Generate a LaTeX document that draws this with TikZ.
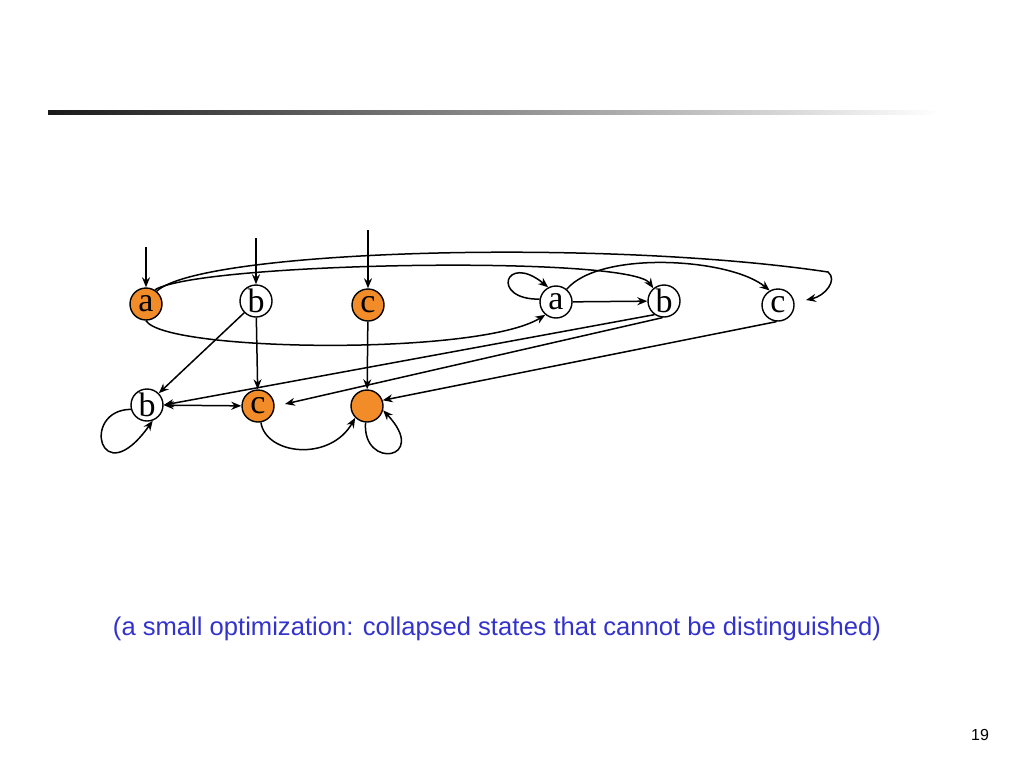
\documentclass[tikz,border=0pt]{standalone}
\usepackage{fontspec}
\setmainfont{Liberation Serif}
\newfontfamily\capfont{Liberation Sans}
\newfontfamily\numfont{Liberation Sans}
\usetikzlibrary{arrows.meta}
\definecolor{stateorange}{RGB}{242,140,40}
\definecolor{capblue}{RGB}{51,51,204}
\begin{document}
\begin{tikzpicture}[x=1pt,y=-1pt,
  st/.style={circle,draw,line width=1.4pt,minimum size=32pt,inner sep=0pt,font=\fontsize{34}{34}\selectfont},
  fin/.style={st,fill=stateorange},
  edge/.style={line width=1.5pt,-{Stealth[length=10pt,width=8pt]}},
  dedge/.style={line width=1.5pt,{Stealth[length=10pt,width=8pt]}-{Stealth[length=10pt,width=8pt]}}]
\useasboundingbox (0,0) rectangle (1024,768);
\shade[left color=black!90,right color=white] (48,110) rectangle (940,114);
% nodes
\node[fin] (a1) at (146,304) {a};
\node[st]  (b1) at (256,301) {b};
\node[fin] (c1) at (368,305) {c};
\node[st]  (a2) at (556,302) {a};
\node[st]  (b2) at (664,301) {b};
\node[st]  (c2) at (778,305) {c};
\node[st]  (b3) at (147,405) {b};
\node[fin] (c3) at (258,406) {c};
\node[fin] (d3) at (367,406) {};
% start coordinates
\coordinate (sa) at (146,247);
\coordinate (sb) at (256,238);
\coordinate (sc) at (368,230);
\coordinate (endc2) at (806,300);
\coordinate (bendc2) at (828,272);
\coordinate (endc3) at (285,404);
% incoming
\draw[edge] (sa) -- (a1);
\draw[edge] (sb) -- (b1);
\draw[edge] (sc) -- (c1);
% upper curves
\draw[edge] (a1.50) .. controls (200,250) and (600,238) .. (bendc2) .. controls (838,280) and (825,296) .. (endc2);
\draw[edge] (a1.58) .. controls (200,262) and (630,255) .. (b2.130);
\draw[edge] (a1.south) .. controls (165,352) and (480,356) .. (a2.230);
\draw[edge] (a2.170) .. controls (490,300) and (505,252) .. (a2.118);
\draw[edge] (a2) -- (b2);
\draw[edge] (a2.50) .. controls (600,250) and (730,258) .. (c2.120);
% long diagonals
\draw[edge] (b2.235) -- (b3.east);
\draw[edge] (b2.265) -- (endc3);
\draw[edge] (c2.265) -- (d3.20);
% lower part
\draw[edge] (b1.225) -- (b3.45);
\draw[edge] (b1) -- (c3);
\draw[edge] (c1) -- (d3);
\draw[dedge] (b3) -- (c3);
\draw[edge] (b3.195) .. controls (80,410) and (100,495) .. (b3.290);
\draw[edge] (c3.280) .. controls (266,455) and (330,462) .. (d3.225);
\draw[edge] (d3.265) .. controls (362,470) and (430,460) .. (d3.345);
% texts
\node[text=capblue,anchor=center] (cap) at (497,629) {\resizebox{768pt}{!}{\capfont\fontsize{22}{26}\selectfont (a small optimization: collapsed states that cannot be distinguished)}};
\node[anchor=center] (num) at (980,735) {\numfont\fontsize{16}{16}\selectfont 19};
\end{tikzpicture}
\end{document}
